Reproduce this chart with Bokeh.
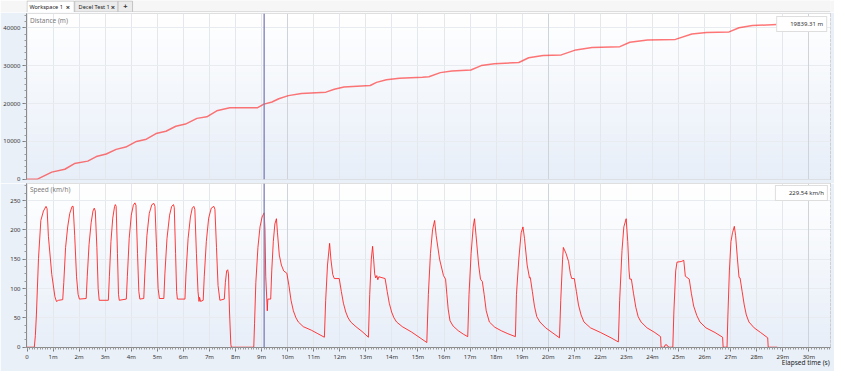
from bokeh.plotting import figure
from bokeh.layouts import column
from bokeh.models import FixedTicker, Span, Label, Legend, LegendItem, Grid, Range1d, LinearAxis
from bokeh.embed import file_html
from bokeh.resources import INLINE
from bokeh.core.properties import value

# ---------------- data ----------------
speed_time_min = [
    0.00, 0.28, 0.32, 0.36, 0.44, 0.53, 0.63, 0.73, 0.77, 0.82, 0.95, 1.07, 1.13, 1.21, 1.37,
    1.41, 1.48, 1.56, 1.64, 1.73, 1.77, 1.83, 1.90, 1.96, 2.01, 2.27,
    2.31, 2.38, 2.46, 2.53, 2.58, 2.62, 2.68, 2.73, 2.77, 3.12,
    3.16, 3.22, 3.29, 3.36, 3.39, 3.42, 3.47, 3.51, 3.54, 3.81,
    3.85, 3.92, 4.00, 4.08, 4.14, 4.18, 4.24, 4.29, 4.33, 4.48,
    4.52, 4.60, 4.69, 4.79, 4.87, 4.91, 4.97, 5.03, 5.08, 5.25,
    5.29, 5.37, 5.47, 5.55, 5.62, 5.65, 5.70, 5.74, 5.77, 6.06,
    6.10, 6.18, 6.27, 6.34, 6.40, 6.44, 6.50, 6.56, 6.60, 6.62, 6.66, 6.76,
    6.80, 6.88, 6.97, 7.07, 7.17, 7.21, 7.27, 7.33, 7.40, 7.57,
    7.61, 7.66, 7.70, 7.73, 7.77, 7.82, 7.84, 8.70,
    8.73, 8.78, 8.86, 8.94, 9.02, 9.10, 9.13, 9.16, 9.20, 9.22, 9.24, 9.35,
    9.39, 9.45, 9.51, 9.57, 9.61, 9.68, 9.76, 9.85, 9.97, 10.05, 10.13, 10.22, 10.32, 10.41, 10.60, 10.91, 11.16, 11.41,
    11.46, 11.53, 11.61, 11.66, 11.73, 11.79, 11.98, 12.06, 12.14, 12.23, 12.32, 12.42, 12.62, 12.85, 13.10,
    13.15, 13.21, 13.26, 13.30, 13.34, 13.38, 13.42, 13.46, 13.50, 13.74, 13.82, 13.90, 13.99, 14.08, 14.18, 14.40, 14.75, 15.08, 15.34,
    15.40, 15.48, 15.56, 15.64, 15.70, 15.83, 15.98, 16.06, 16.11, 16.16, 16.23, 16.35, 16.55, 16.75, 16.91,
    16.96, 17.04, 17.12, 17.17, 17.23, 17.33, 17.40, 17.47, 17.54, 17.62, 17.74, 17.95, 18.20, 18.45, 18.74,
    18.78, 18.87, 18.96, 19.03, 19.09, 19.19, 19.28, 19.31, 19.39, 19.47, 19.56, 19.68, 19.90, 20.15, 20.43,
    20.48, 20.55, 20.58, 20.68, 20.78, 20.85, 20.90, 21.00, 21.08, 21.16, 21.26, 21.37, 21.62, 22.01, 22.41, 22.69,
    22.74, 22.83, 22.90, 22.99, 23.05, 23.10, 23.13, 23.19, 23.27, 23.36, 23.45, 23.56, 23.79, 24.09, 24.31, 24.33, 24.45, 24.49, 24.55, 24.59, 24.65, 24.78,
    24.82, 24.89, 24.94, 25.10, 25.20, 25.26, 25.41, 25.49, 25.58, 25.70, 25.82, 26.05, 26.40, 26.69, 26.71, 26.86,
    26.89, 26.95, 27.01, 27.07, 27.14, 27.19, 27.26, 27.32, 27.36, 27.44, 27.52, 27.60, 27.70, 27.90, 28.15, 28.42, 28.44, 28.79,
]
speed_kmh = [
    0, 0, 20, 55, 151, 216, 232, 240, 236, 189, 124, 86, 78, 80, 81,
    110, 170, 205, 228, 240, 240, 190, 120, 90, 82, 83,
    120, 175, 212, 232, 237, 232, 170, 100, 80, 80,
    120, 180, 220, 240, 243, 240, 160, 90, 80, 82,
    120, 185, 225, 242, 246, 242, 160, 95, 82, 83,
    125, 190, 228, 243, 245, 240, 170, 100, 83, 83,
    125, 185, 225, 240, 243, 238, 160, 95, 82, 82,
    125, 185, 222, 237, 240, 235, 160, 95, 78, 85, 78, 80,
    120, 180, 220, 237, 240, 235, 170, 105, 80, 82,
    110, 130, 132, 125, 60, 5, 0, 0,
    40, 110, 170, 205, 222, 229, 200, 120, 82, 62, 82, 82,
    130, 180, 210, 219, 195, 157, 140, 130, 126, 105, 80, 62, 50, 43, 35, 29, 23, 17,
    80, 140, 177, 150, 124, 117, 117, 95, 75, 60, 50, 43, 35, 27, 17,
    90, 150, 172, 150, 125, 118, 122, 115, 120, 117, 95, 75, 60, 50, 43, 35, 26, 16, 8,
    90, 160, 200, 216, 190, 150, 122, 116, 90, 65, 45, 36, 28, 22, 18,
    90, 160, 205, 219, 190, 140, 116, 112, 90, 62, 43, 34, 28, 23, 18,
    90, 150, 195, 205, 185, 140, 118, 119, 95, 70, 52, 43, 33, 25, 16,
    80, 150, 170, 160, 146, 125, 117, 117, 95, 72, 55, 43, 33, 25, 16, 9,
    80, 165, 205, 219, 180, 130, 116, 116, 92, 68, 52, 43, 33, 25, 18, 0, 0, 4, 4, 1, 0, 0,
    60, 130, 145, 146, 148, 121, 116, 92, 70, 54, 43, 33, 25, 17, 0, 0,
    50, 130, 180, 195, 206, 190, 150, 119, 118, 95, 72, 55, 43, 33, 25, 16, 0, 0,
]
dist_time_min = [
    0.00, 0.38, 0.95, 1.45, 1.82, 2.33, 2.66, 3.04, 3.42, 3.79, 4.20, 4.58, 4.95, 5.33,
    5.71, 6.08, 6.52, 6.90, 7.28, 7.78, 8.85, 9.09, 9.40, 9.66, 10.03, 10.53, 11.47, 11.79,
    12.16, 13.17, 13.41, 13.79, 14.29, 15.17, 15.42, 15.86, 16.30, 17.03, 17.43, 17.93,
    18.87, 19.25, 19.80, 20.50, 21.06, 21.68, 22.75, 23.13, 23.81, 24.88, 25.51, 26.07,
    26.94, 27.32, 27.83, 28.77,
]
distance_m = [
    0, 0, 1900, 2650, 4150, 4800, 6000, 6670, 7900, 8500, 10000, 10580, 12080, 12670,
    14000, 14580, 16080, 16500, 18080, 18900, 18900, 19840, 20400, 21250, 22080, 22670, 23000, 23750,
    24330, 24750, 25580, 26250, 26670, 26950, 27050, 28150, 28580, 28830, 30000, 30500,
    30830, 32080, 32670, 32830, 34150, 34750, 35000, 36170, 36750, 36920, 38330, 38750,
    38900, 40000, 40580, 40830,
]
assert len(speed_time_min) == len(speed_kmh)
assert len(dist_time_min) == len(distance_m)

cursor_time_min = 9.10
distance_readout = "19839.31 m"
speed_readout = "229.54 km/h"

minute_ticks = [0, 1, 2, 3, 4, 5, 6, 7, 8, 9, 10, 11, 12, 13, 14, 15, 16, 17, 18, 19, 20,
                21, 22, 23, 24, 25, 26, 27, 28, 29, 30]
minute_labels = ["0", "1m", "2m", "3m", "4m", "5m", "6m", "7m", "8m", "9m", "10m", "11m", "12m",
                 "13m", "14m", "15m", "16m", "17m", "18m", "19m", "20m", "21m", "22m", "23m",
                 "24m", "25m", "26m", "27m", "28m", "29m", "30m"]
decade_ticks = [10, 20, 30]
distance_ticks = [0, 10000, 20000, 30000, 40000]
speed_ticks = [0, 50, 100, 150, 200, 250]
tab_labels = ["Workspace 1", "Decel Test 1"]
panel_titles = ["Distance (m)", "Speed (km/h)"]
x_title = "Elapsed time (s)"

# ---------------- styling ----------------
FONT = "Noto Sans"
W = 834
AXIS_BG = "#eaf0f8"
LINE_RED = "#ff1a1a"
X0, X1 = -0.02, 30.83
X_TITLE_POS = 29.88   # centre of the right-aligned x title (in minutes)

xr = Range1d(X0, X1)


def add_gradient(p, y0, y1, n=40):
    bots, tops, cols = [], [], []
    for i in range(n):
        f0, f1 = i / n, (i + 1) / n
        bots.append(y0 + (y1 - y0) * f0)
        tops.append(y0 + (y1 - y0) * f1)
        fm = (f0 + f1) / 2
        r = round(231 + (255 - 231) * fm)
        g = round(238 + (255 - 238) * fm)
        b = round(248 + (255 - 248) * fm)
        cols.append("#%02x%02x%02x" % (r, g, b))
    p.quad(left=X0 - 1, right=X1 + 1, bottom=bots, top=tops, fill_color=cols,
           line_color=cols, line_width=1, level="image")


def style_panel(p, yticks, yminor):
    p.background_fill_color = "white"
    p.border_fill_color = AXIS_BG
    p.outline_line_color = "#a9a9a9"
    p.xgrid.ticker = FixedTicker(ticks=minute_ticks)
    p.xgrid.grid_line_color = "#e4e7eb"
    p.ygrid.ticker = FixedTicker(ticks=yticks)
    p.ygrid.grid_line_color = "#e8ebef"
    p.add_layout(Grid(dimension=0, ticker=FixedTicker(ticks=decade_ticks),
                      grid_line_color="#cfd4da"))
    ya = p.yaxis[0]
    ya.ticker = FixedTicker(ticks=yticks, minor_ticks=yminor)
    ya.axis_line_color = "#8a8a8a"
    ya.major_tick_line_color = "#7a7a7a"
    ya.minor_tick_line_color = "#9a9a9a"
    ya.major_tick_out = 4
    ya.major_tick_in = 0
    ya.minor_tick_out = 2
    ya.minor_tick_in = 0
    ya.major_label_text_font = FONT
    ya.major_label_text_font_size = "6px"
    ya.major_label_text_color = "#333333"
    ya.major_label_standoff = 2
    p.add_layout(Span(location=cursor_time_min, dimension="height",
                      line_color="#7c7cb8", line_width=1.6, line_alpha=0.8))


def add_readout(p, text, margin):
    sq = p.scatter(x=[], y=[], marker="square", size=6, fill_color="#ff0000",
                   line_color="#ff0000")
    leg = Legend(items=[LegendItem(label=text, renderers=[sq])], location="top_right",
                 margin=margin, padding=3, spacing=0, glyph_width=6, glyph_height=6,
                 label_height=6, label_standoff=4, label_text_font=FONT,
                 label_text_font_size="6px", label_text_color="#333333",
                 border_line_color="#bdbdbd", background_fill_color="white",
                 background_fill_alpha=1.0)
    p.add_layout(leg)


# ---------------- tab strip ----------------
tabs = figure(width=W, height=12, x_range=Range1d(0, W), y_range=Range1d(0, 12),
              toolbar_location=None, output_backend="svg", min_border=0)
tabs.axis.visible = False
tabs.grid.visible = False
tabs.outline_line_color = None
tabs.background_fill_color = "#f6f6f6"
tabs.border_fill_color = "#f6f6f6"
tabs.segment(x0=[0], x1=[W], y0=[0.5], y1=[0.5], line_color="#c4c4c4", line_width=1)
tabs.quad(left=[0.5, 50, 95], right=[49.5, 95, 110], bottom=[0, 0.5, 0.5], top=[11.5, 11.5, 11.5],
          fill_color=["#ffffff", "#ebebeb", "#ebebeb"], line_color="#c4c4c4", line_width=1)
tabs.text(x=[3, 54], y=[6, 6], text=tab_labels, text_font=value(FONT),
          text_font_size="5.6px", text_baseline="middle", text_color="#222222")
tabs.text(x=[43, 89.5, 102.5], y=[6, 6, 6], text=["\u00d7", "\u00d7", "+"], text_font=value(FONT),
          text_font_size="7.5px", text_baseline="middle", text_align="center",
          text_color="#333333", text_font_style="bold")

# ---------------- distance panel ----------------
top = figure(width=W, height=171, x_range=xr, y_range=Range1d(-50, 43750),
             toolbar_location=None, output_backend="svg",
             min_border_left=26, min_border_right=4, min_border_top=1, min_border_bottom=4)
top.xaxis.visible = False
style_panel(top, distance_ticks, [i * 10000 / 6 for i in range(0, 27)])
add_gradient(top, -50, 43750)
top.line(dist_time_min, distance_m, line_color=LINE_RED, line_alpha=0.6, line_width=1.5)
top.add_layout(Label(x=0.11, y=42970, text=panel_titles[0], text_font=FONT,
                     text_font_size="6.5px", text_color="#7d7d7d", text_baseline="top"))
add_readout(top, distance_readout, 3)

# ---------------- speed panel ----------------
bot = figure(width=W, height=188, x_range=xr, y_range=Range1d(-0.5, 279),
             toolbar_location=None, output_backend="svg",
             min_border_left=26, min_border_right=4, min_border_top=0, min_border_bottom=24)
style_panel(bot, speed_ticks, [i * 12.5 for i in range(0, 23)])
add_gradient(bot, -0.5, 279)
bot.line(speed_time_min, speed_kmh, line_color=LINE_RED, line_alpha=0.85, line_width=1)
bot.add_layout(Label(x=0.11, y=276, text=panel_titles[1], text_font=FONT,
                     text_font_size="6.5px", text_color="#7d7d7d", text_baseline="top"))
add_readout(bot, speed_readout, 2)

xa = bot.xaxis[0]
xa.ticker = FixedTicker(ticks=minute_ticks, minor_ticks=[i / 10 for i in range(0, 309)])
xa.major_label_overrides = dict(zip(minute_ticks, minute_labels))
xa.axis_line_color = "#8a8a8a"
xa.major_tick_line_color = "#7a7a7a"
xa.minor_tick_line_color = "#9a9a9a"
xa.major_tick_out = 4
xa.major_tick_in = 0
xa.minor_tick_out = 2
xa.minor_tick_in = 0
xa.major_label_text_font = FONT
xa.major_label_text_font_size = "6px"
xa.major_label_text_color = "#333333"
xa.major_label_standoff = 1

# x-axis title, right-aligned under the axis (second, label-only axis)
title_axis = LinearAxis(ticker=FixedTicker(ticks=[X_TITLE_POS], minor_ticks=[]),
                        major_label_overrides={X_TITLE_POS: x_title},
                        axis_line_color=None, major_tick_line_color=None,
                        minor_tick_line_color=None, major_tick_out=0, major_tick_in=0,
                        minor_tick_out=0, minor_tick_in=0, major_label_standoff=-6,
                        major_label_text_font=FONT, major_label_text_font_size="6.5px",
                        major_label_text_color="#222222")
bot.add_layout(title_axis, "below")

layout = column(tabs, top, bot, spacing=0)
open("out.html", "w").write(file_html(layout, INLINE))
